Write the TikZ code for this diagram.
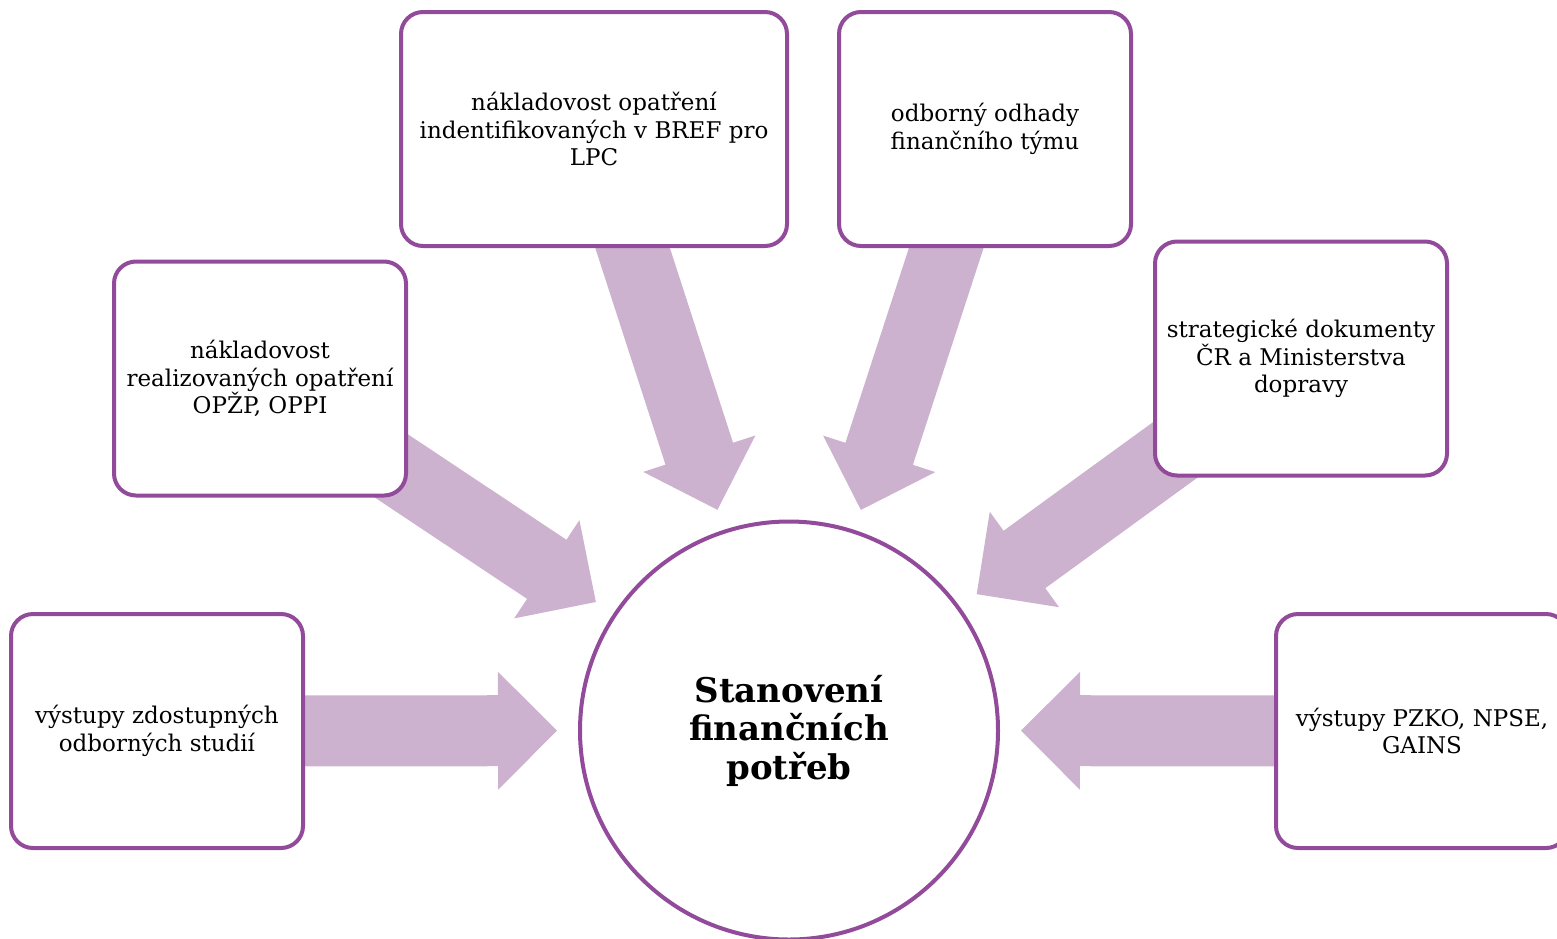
\documentclass[tikz,border=0pt]{standalone}
\usepackage{fontspec}
\setmainfont{DejaVu Serif}
\usetikzlibrary{calc,backgrounds}
\definecolor{boxline}{RGB}{146,74,154}
\definecolor{arrowfill}{RGB}{204,178,206}
\tikzset{
  infobox/.style={draw=boxline, line width=4pt, fill=white, rounded corners=22pt,
    minimum width=292pt, minimum height=234pt, align=center, inner sep=0pt,
    font=\fontsize{23}{27.5}\selectfont},
  hub/.style={circle, draw=boxline, line width=4pt, fill=white, minimum size=418pt,
    align=center, inner sep=0pt, font=\fontsize{34}{38.5}\selectfont\bfseries},
  blockarrow/.style={fill=arrowfill, draw=none}
}
\newcommand{\feedarrow}[2]{%
  \coordinate (#1-t) at ($(#2.center)!232pt!(#1.center)$);
  \coordinate (#1-h) at ($(#2.center)!291pt!(#1.center)$);
  \path[blockarrow]
    ($(#1.center)!35.5pt!-90:(#1-h)$) -- ($(#1-h)!35.5pt!90:(#1.center)$)
    -- ($(#1-h)!59pt!90:(#1.center)$) -- (#1-t)
    -- ($(#1-h)!59pt!-90:(#1.center)$) -- ($(#1-h)!35.5pt!-90:(#1.center)$)
    -- ($(#1.center)!35.5pt!90:(#1-h)$) -- cycle;
}
\begin{document}
\begin{tikzpicture}[x=1pt,y=-1pt]
\useasboundingbox (0,0) rectangle (1557,938);
\node[hub] (c) at (789,730.5) {Stanovení\\finančních\\potřeb};
\node[infobox] (b1) at (157,731) {výstupy zdostupných\\odborných studií};
\node[infobox] (b2) at (260,378.5) {nákladovost\\realizovaných opatření\\OPŽP, OPPI};
\node[infobox, minimum width=386pt] (b3) at (594,129) {nákladovost opatření\\indentifikovaných v BREF pro\\LPC};
\node[infobox] (b4) at (985,129) {odborný odhady\\finančního týmu};
\node[infobox] (b5) at (1301,358.5) {strategické dokumenty\\ČR a Ministerstva\\dopravy};
\node[infobox] (b6) at (1422,731) {výstupy PZKO, NPSE,\\GAINS};
\begin{scope}[on background layer]
  \feedarrow{b1}{c}
  \feedarrow{b2}{c}
  \feedarrow{b3}{c}
  \feedarrow{b4}{c}
  \feedarrow{b5}{c}
  \feedarrow{b6}{c}
\end{scope}
\end{tikzpicture}
\end{document}
